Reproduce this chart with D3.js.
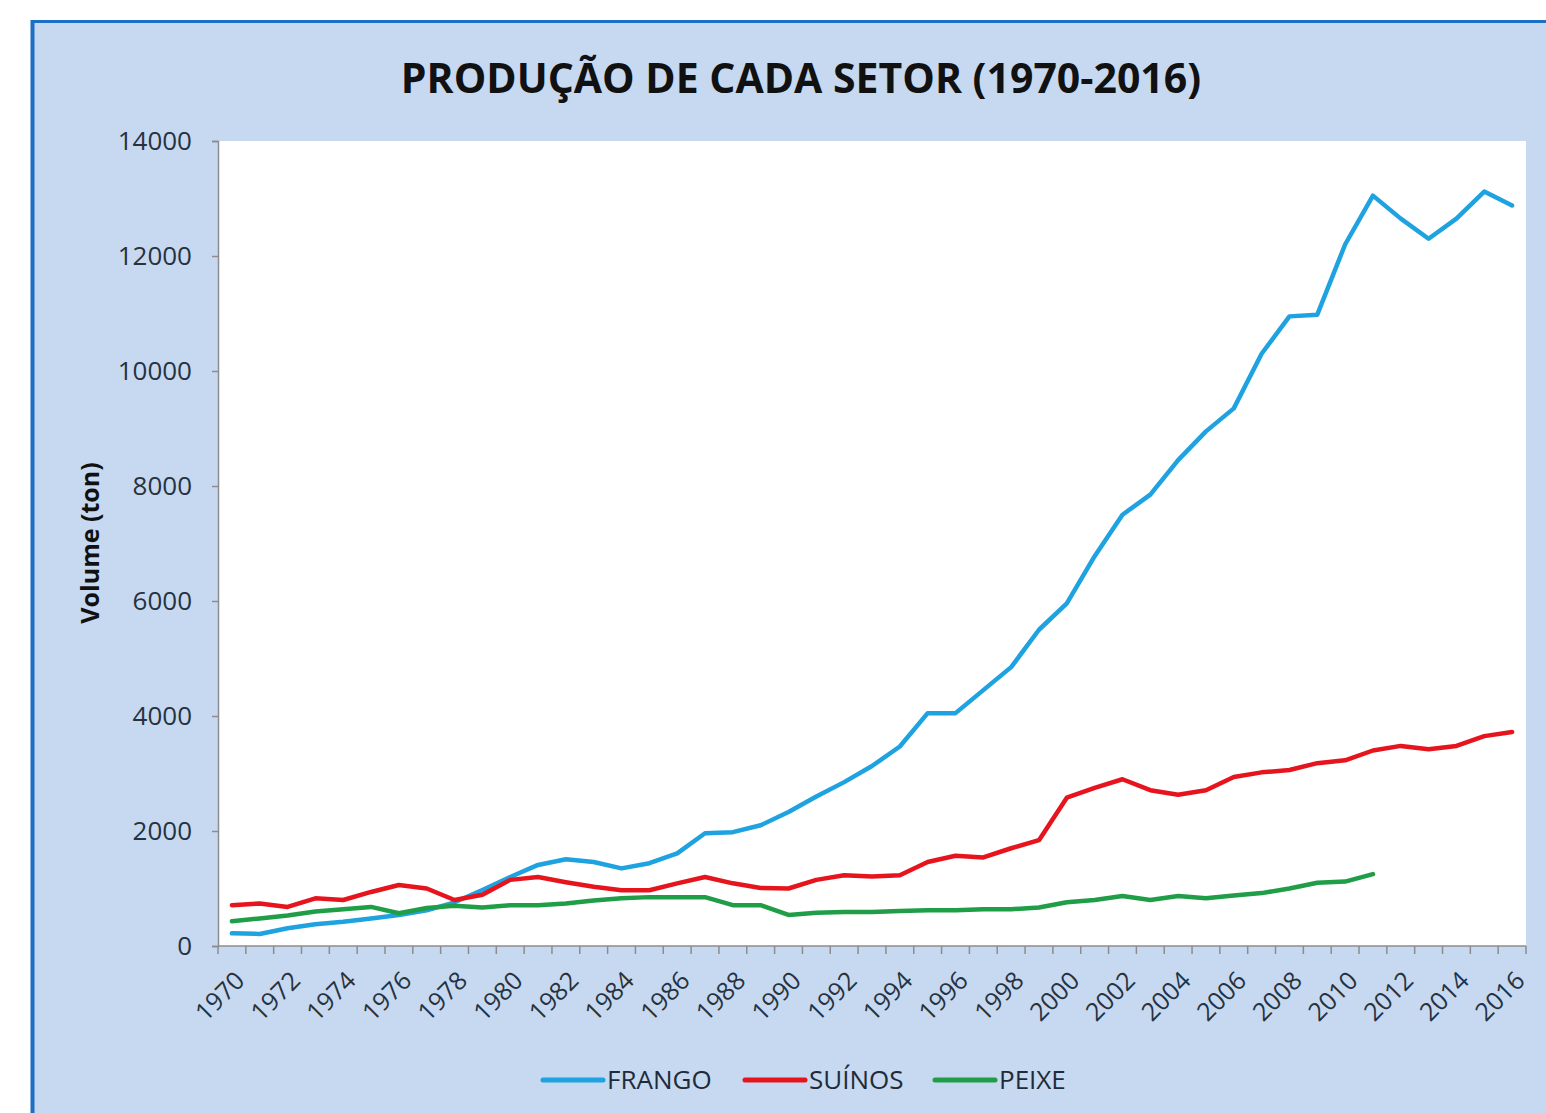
<!DOCTYPE html>
<html>
<head>
<meta charset="utf-8">
<script src="https://cdn.jsdelivr.net/npm/d3@7"></script>
<style>
  html, body { margin: 0; padding: 0; background: #ffffff; }
  svg { display: block; }
</style>
</head>
<body>
<svg id="chart" width="1546" height="1113"></svg>
<script>
const years = d3.range(1970, 2017);
const tickLabels = years.filter(y => (y - 1970) % 2 === 0).map(String);

const frango = [220, 210, 310, 380, 420, 480, 540, 620, 760, 975,
  1200, 1410, 1510, 1460, 1350, 1440, 1610, 1960, 1980, 2100,
  2330, 2600, 2850, 3130, 3470, 4050, 4050, 4450, 4850, 5500,
  5960, 6780, 7500, 7850, 8450, 8950, 9350, 10300, 10950, 10980,
  12200, 13050, 12650, 12300, 12650, 13120, 12880];
const suinos = [710, 740, 680, 830, 800, 940, 1060, 1000, 800, 890,
  1150, 1200, 1110, 1030, 970, 970, 1090, 1200, 1090, 1010,
  1000, 1150, 1230, 1210, 1230, 1460, 1570, 1540, 1700, 1840,
  2580, 2750, 2900, 2710, 2630, 2710, 2940, 3020, 3060, 3180,
  3230, 3400, 3480, 3420, 3480, 3650, 3720];
const peixe = [430, 480, 530, 600, 640, 680, 570, 660, 700, 670,
  710, 710, 740, 790, 830, 850, 850, 850, 710, 710,
  540, 580, 590, 590, 610, 620, 620, 640, 640, 670,
  760, 800, 870, 800, 870, 830, 880, 920, 1000, 1100,
  1120, 1250, null, null, null, null, null];

const seriesNames = ["FRANGO", "SUÍNOS", "PEIXE"];
const seriesColors = ["#1ea2e0", "#e6151d", "#1f9d47"];
const seriesValues = [frango, suinos, peixe];
const yTicks = [0, 2000, 4000, 6000, 8000, 10000, 12000, 14000];

const svg = d3.select("#chart");
const W = 1546, H = 1113;
const plot = { left: 218, right: 1526, top: 141, bottom: 946 };

// panel background and frame
svg.append("rect").attr("x", 32).attr("y", 21).attr("width", W).attr("height", H)
  .attr("fill", "#c6d9f1");
svg.append("line").attr("x1", 32.5).attr("x2", 32.5).attr("y1", 20).attr("y2", H)
  .attr("stroke", "#1c6fc2").attr("stroke-width", 4);
svg.append("line").attr("x1", 31).attr("x2", W).attr("y1", 21.5).attr("y2", 21.5)
  .attr("stroke", "#1c6fc2").attr("stroke-width", 3);

// plot area
svg.append("rect").attr("x", plot.left).attr("y", plot.top)
  .attr("width", plot.right - plot.left).attr("height", plot.bottom - plot.top)
  .attr("fill", "#ffffff");

const xBand = d3.scaleBand().domain(years.map(String)).range([plot.left, plot.right]).padding(0);
const xPoint = d => xBand(String(d)) + xBand.bandwidth() / 2;
const y = d3.scaleLinear().domain([0, 14000]).range([plot.bottom, plot.top]);

// title
svg.append("text").attr("x", 801).attr("y", 93).attr("text-anchor", "middle")
  .attr("font-family", "Open Sans").attr("font-weight", "bold").attr("font-size", 41)
  .attr("fill", "#111111").text("PRODUÇÃO DE CADA SETOR (1970-2016)");

// y axis
const yAxis = d3.axisLeft(y).tickValues(yTicks).tickSize(6).tickPadding(20).tickFormat(d3.format("d"));
const gy = svg.append("g").attr("transform", `translate(${plot.left},0)`).call(yAxis);
gy.select(".domain").attr("stroke", "#8c8c8c").attr("stroke-width", 1.5);
gy.selectAll(".tick line").attr("stroke", "#8c8c8c").attr("stroke-width", 1.5);
gy.selectAll(".tick text").attr("font-family", "Open Sans").attr("font-size", 26)
  .attr("fill", "#26323f").attr("dy", "0.32em");

// x axis: ticks at category boundaries
const boundaries = d3.range(years.length + 1).map(i => plot.left + i * xBand.bandwidth());
const gx = svg.append("g");
gx.append("line").attr("x1", plot.left).attr("x2", plot.right)
  .attr("y1", plot.bottom).attr("y2", plot.bottom)
  .attr("stroke", "#8c8c8c").attr("stroke-width", 1.5);
gx.selectAll("line.tk").data(boundaries).join("line").attr("class", "tk")
  .attr("x1", d => d).attr("x2", d => d).attr("y1", plot.bottom).attr("y2", plot.bottom + 8)
  .attr("stroke", "#8c8c8c").attr("stroke-width", 1.5);
gx.selectAll("text").data(tickLabels).join("text")
  .attr("transform", d => `translate(${xBand(d) + xBand.bandwidth() / 2 + 8},${plot.bottom + 30}) rotate(-45)`)
  .attr("text-anchor", "end").attr("dy", "0.35em")
  .attr("font-family", "Open Sans").attr("font-size", 25).attr("fill", "#26323f")
  .text(d => d);

// y axis title
svg.append("text").attr("transform", "translate(99,543) rotate(-90)")
  .attr("text-anchor", "middle").attr("font-family", "Open Sans").attr("font-weight", "bold")
  .attr("font-size", 25).attr("fill", "#111111").text("Volume (ton)");

// lines
const line = d3.line().defined(d => d.v != null).x(d => xPoint(d.year)).y(d => y(d.v));
seriesValues.forEach((vals, i) => {
  const data = years.map((yr, j) => ({ year: yr, v: vals[j] }));
  svg.append("path").datum(data).attr("d", line).attr("fill", "none")
    .attr("stroke", seriesColors[i]).attr("stroke-width", 4.5)
    .attr("stroke-linejoin", "round").attr("stroke-linecap", "round");
});

// legend
const legendX = [543, 745, 935];
const lg = svg.append("g");
seriesNames.forEach((name, i) => {
  lg.append("line").attr("x1", legendX[i]).attr("x2", legendX[i] + 60)
    .attr("y1", 1080).attr("y2", 1080).attr("stroke", seriesColors[i]).attr("stroke-width", 5)
    .attr("stroke-linecap", "round");
  lg.append("text").attr("x", legendX[i] + 64).attr("y", 1080).attr("dy", "0.35em")
    .attr("font-family", "Open Sans").attr("font-size", 26).attr("fill", "#1f2b3a").text(name);
});
</script>
</body>
</html>
